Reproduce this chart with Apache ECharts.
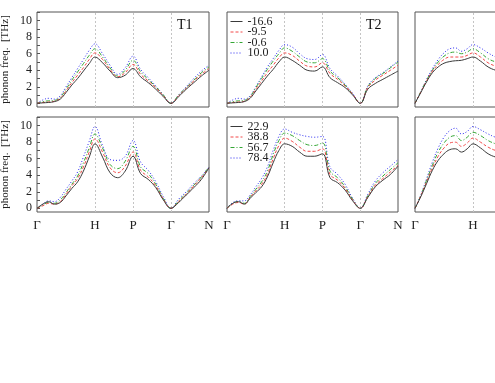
<!DOCTYPE html>
<html>
<head>
<meta charset="utf-8">
<script src="https://cdn.jsdelivr.net/npm/echarts@6/dist/echarts.min.js"></script>
<style>
html, body { margin: 0; padding: 0; background: #fff; }
#main { width: 495px; height: 383px; }
</style>
</head>
<body>
<div id="main"></div>
<script>
// k-path positions (Γ=0, H=1, P=1.655, Γ=2.31, N=2.965)
const kPath = [0, 0.1, 0.2, 0.3, 0.4, 0.5, 0.6, 0.7, 0.8, 0.9, 1.0,
    1.13, 1.26, 1.39, 1.52, 1.655,
    1.786, 1.917, 2.048, 2.179, 2.31,
    2.441, 2.572, 2.703, 2.834, 2.965];
const kTicks = [0, 1, 1.655, 2.31, 2.965];
const kLabels = ['Γ', 'H', 'P', 'Γ', 'N'];
const yLabelVals = [0, 2, 4, 6, 8, 10];
const yTickVals = [0, 1, 2, 3, 4, 5, 6, 7, 8, 9, 10, 11];

const topNames = ['-16.6', '-9.5', '-0.6', '10.0'];
const bottomNames = ['22.9', '38.8', '56.7', '78.4'];

// T1 (left column)
const t1Top = [
    [0, 0.05, 0.1, 0.2, 0.5, 1.3, 2.2, 3.0, 3.9, 4.8, 5.6, 4.9, 3.9, 3.1, 3.4, 4.2, 3.2, 2.5, 1.7, 0.8, 0, 0.8, 1.7, 2.5, 3.3, 4.0],
    [0, 0.1, 0.15, 0.25, 0.6, 1.5, 2.5, 3.4, 4.3, 5.3, 6.1, 5.3, 4.1, 3.2, 3.7, 4.7, 3.5, 2.7, 1.9, 0.9, 0, 0.9, 1.8, 2.7, 3.5, 4.2],
    [0, 0.2, 0.3, 0.35, 0.7, 1.7, 2.8, 3.8, 4.8, 5.8, 6.6, 5.6, 4.3, 3.3, 4.0, 5.2, 3.8, 2.9, 2.0, 1.0, 0, 1.0, 1.9, 2.8, 3.7, 4.4],
    [0, 0.4, 0.6, 0.5, 0.9, 2.0, 3.1, 4.2, 5.3, 6.4, 7.2, 6.0, 4.6, 3.5, 4.3, 5.7, 4.1, 3.1, 2.1, 1.0, 0, 1.0, 2.0, 3.0, 3.9, 4.6]
];
const t1Bottom = [
    [0, 0.5, 0.8, 0.5, 0.7, 1.5, 2.4, 3.2, 4.5, 6.2, 7.8, 6.2, 4.3, 3.7, 4.5, 6.3, 4.2, 3.5, 2.5, 1.0, 0, 0.7, 1.6, 2.5, 3.5, 4.9],
    [0, 0.3, 0.6, 0.5, 0.8, 1.7, 2.7, 3.6, 5.0, 6.8, 8.4, 6.8, 4.9, 4.3, 5.1, 6.8, 4.6, 3.8, 2.7, 1.1, 0, 0.8, 1.7, 2.7, 3.7, 4.9],
    [0, 0.4, 0.7, 0.6, 1.0, 1.9, 2.9, 3.9, 5.5, 7.3, 9.0, 7.3, 5.3, 4.8, 5.7, 7.5, 5.0, 4.2, 2.9, 1.2, 0, 0.9, 1.8, 2.8, 3.8, 5.0],
    [0, 0.5, 0.9, 0.8, 1.3, 2.3, 3.3, 4.4, 6.2, 8.1, 9.9, 7.6, 5.9, 5.8, 6.3, 8.2, 5.6, 4.6, 3.2, 1.4, 0, 1.1, 2.0, 3.0, 3.9, 5.0]
];

// T2 (middle column)
const t2Top = [
    [0, 0.05, 0.1, 0.2, 0.6, 1.5, 2.4, 3.3, 4.1, 5.0, 5.6, 5.2, 4.6, 4.0, 3.9, 4.4, 3.1, 2.5, 1.9, 1.0, 0, 1.7, 2.4, 2.9, 3.4, 3.9],
    [0, 0.1, 0.15, 0.25, 0.7, 1.7, 2.7, 3.7, 4.6, 5.5, 6.1, 5.8, 5.1, 4.5, 4.4, 4.9, 3.6, 2.9, 2.1, 1.1, 0, 1.9, 2.8, 3.4, 4.0, 4.6],
    [0, 0.2, 0.3, 0.35, 0.8, 1.9, 3.0, 4.1, 5.1, 6.0, 6.7, 6.3, 5.6, 5.0, 4.9, 5.4, 3.9, 3.1, 2.2, 1.1, 0, 2.0, 3.0, 3.6, 4.3, 5.0],
    [0, 0.4, 0.6, 0.5, 0.9, 2.0, 3.2, 4.4, 5.4, 6.4, 7.1, 6.8, 6.0, 5.4, 5.3, 5.9, 4.2, 3.3, 2.3, 1.2, 0, 2.1, 3.1, 3.7, 4.4, 5.1]
];
const t2Bottom = [
    [0, 0.6, 0.8, 0.5, 1.2, 1.9, 2.6, 3.8, 5.5, 7.0, 7.8, 7.5, 6.8, 6.3, 6.3, 6.6, 3.7, 3.1, 2.2, 0.9, 0, 1.3, 2.6, 3.4, 4.1, 5.1],
    [0, 0.5, 0.7, 0.5, 1.3, 2.1, 2.9, 4.1, 6.0, 7.6, 8.5, 8.1, 7.4, 6.9, 6.9, 7.2, 4.1, 3.4, 2.4, 1.0, 0, 1.4, 2.8, 3.6, 4.4, 5.2],
    [0, 0.6, 0.8, 0.6, 1.4, 2.3, 3.2, 4.5, 6.5, 8.2, 9.1, 8.8, 8.2, 7.7, 7.6, 7.9, 4.5, 3.7, 2.6, 1.1, 0, 1.5, 3.0, 3.9, 4.7, 5.5],
    [0, 0.7, 0.9, 0.9, 1.6, 2.6, 3.6, 5.0, 7.0, 8.7, 9.6, 9.2, 8.9, 8.7, 8.6, 8.7, 5.0, 4.1, 2.9, 1.2, 0, 1.7, 3.3, 4.3, 5.1, 5.9]
];

// third column (cut off at the right edge)
const t3Top = [
    [0, 1.3, 2.6, 3.7, 4.4, 4.85, 5.05, 5.15, 5.2, 5.4, 5.6, 5.1, 4.4, 4.0, 3.8],
    [0, 1.35, 2.7, 3.9, 4.7, 5.3, 5.6, 5.6, 5.6, 5.8, 6.1, 5.6, 4.9, 4.5, 4.3],
    [0, 1.4, 2.8, 4.0, 5.0, 5.7, 6.1, 6.2, 6.0, 6.2, 6.6, 6.1, 5.4, 5.0, 4.7],
    [0, 1.4, 2.9, 4.2, 5.3, 6.1, 6.6, 6.7, 6.3, 6.6, 7.1, 6.7, 6.1, 5.6, 5.2]
];
const t3Bottom = [
    [0, 1.4, 3.0, 4.6, 5.8, 6.6, 7.1, 7.2, 6.8, 7.2, 7.8, 7.3, 6.6, 6.2, 6.0],
    [0, 1.5, 3.2, 4.9, 6.3, 7.3, 7.9, 8.0, 7.5, 7.9, 8.5, 8.0, 7.4, 7.0, 6.8],
    [0, 1.55, 3.4, 5.2, 6.8, 7.9, 8.6, 8.8, 8.2, 8.6, 9.2, 8.8, 8.2, 7.8, 7.5],
    [0, 1.6, 3.6, 5.6, 7.3, 8.6, 9.4, 9.7, 9.0, 9.3, 9.9, 9.5, 9.0, 8.6, 8.4]
];

const serif = 'Liberation Serif';
const colors = ['#3a3a3a', '#f24848', '#34a634', '#2727f0'];
const dashes = ['solid', [3, 2], [4, 2, 1, 2], [1, 2]];

const panels = [
    {col: 0, row: 0, data: t1Top, names: topNames},
    {col: 1, row: 0, data: t2Top, names: topNames},
    {col: 2, row: 0, data: t3Top, names: topNames},
    {col: 0, row: 1, data: t1Bottom, names: bottomNames},
    {col: 1, row: 1, data: t2Bottom, names: bottomNames},
    {col: 2, row: 1, data: t3Bottom, names: bottomNames},
];
const colLeft = [37, 227, 415];
const colWidth = [172, 171, 83];    // third panel runs off the page
const colMax = [2.965, 2.965, 83 / 58];
const rowTop = [12, 117];

const grids = [], xAxes = [], yAxes = [], series = [];
panels.forEach(function (p, i) {
    const xMax = colMax[p.col];
    grids.push({
        left: colLeft[p.col], top: rowTop[p.row], width: colWidth[p.col], height: 95,
        outerBoundsMode: 'none',
        show: true, borderColor: '#555', borderWidth: 1, backgroundColor: 'transparent',
    });
    xAxes.push({
        gridIndex: i, type: 'value', min: 0, max: xMax,
        axisLine: {show: false},
        axisTick: {show: false},
        splitLine: {show: false},
        axisLabel: {
            show: p.row === 1,
            customValues: kTicks.filter(function (v) { return v <= xMax; }),
            formatter: function (v) {
                return kLabels[kTicks.indexOf(v)];
            },
            fontFamily: serif, fontSize: 13, color: '#222', margin: 7,
            showMinLabel: true, showMaxLabel: true,
        },
    });
    yAxes.push({
        gridIndex: i, type: 'value', min: -0.45, max: 11.05,
        name: p.col === 0 ? 'phonon freq.  [THz]' : '',
        nameLocation: 'middle', nameRotate: 90, nameGap: 26,
        nameTextStyle: {fontFamily: serif, fontSize: 11, color: '#222'},
        axisLine: {show: false},
        splitLine: {show: false},
        axisTick: {
            show: p.col === 0, inside: true, length: 3,
            customValues: yTickVals,
            lineStyle: {color: '#555'},
        },
        axisLabel: {
            show: p.col === 0,
            customValues: yLabelVals,
            fontFamily: serif, fontSize: 12, color: '#222', margin: 5,
        },
    });
    p.data.forEach(function (vals, j) {
        series.push({
            name: p.names[j],
            type: 'line',
            xAxisIndex: i, yAxisIndex: i,
            data: vals.map(function (v, k) { return [kPath[k], v]; }),
            smooth: 0.4,
            symbol: 'none',
            clip: true,
            lineStyle: {color: colors[j], width: 1, type: dashes[j]},
            itemStyle: {color: colors[j]},
            z: 10 - j,
            markLine: j === 0 ? {
                silent: true, symbol: 'none', label: {show: false},
                lineStyle: {color: '#c4c4c4', type: [2, 2], width: 1},
                data: [1, 1.655, 2.31].filter(function (v) { return v < xMax; })
                    .map(function (v) { return {xAxis: v}; }),
            } : undefined,
        });
    });
});

const legendBase = {
    orient: 'vertical', left: 230, selectedMode: false, padding: 0,
    itemWidth: 12, itemHeight: 10, itemGap: -1.5,
    itemStyle: {opacity: 0},
    lineStyle: {width: 1},
    textStyle: {fontFamily: serif, fontSize: 12, color: '#222'},
};

const chart = echarts.init(document.getElementById('main'));
chart.setOption({
    animation: false,
    grid: grids,
    xAxis: xAxes,
    yAxis: yAxes,
    legend: [
        Object.assign({top: 15.5, data: topNames}, legendBase),
        Object.assign({top: 120.5, data: bottomNames}, legendBase),
    ],
    graphic: [
        {type: 'text', left: 177, top: 18, style: {text: 'T1', font: '14px "Liberation Serif"', fill: '#111'}},
        {type: 'text', left: 366, top: 18, style: {text: 'T2', font: '14px "Liberation Serif"', fill: '#111'}},
    ],
    series: series,
});
</script>
</body>
</html>
